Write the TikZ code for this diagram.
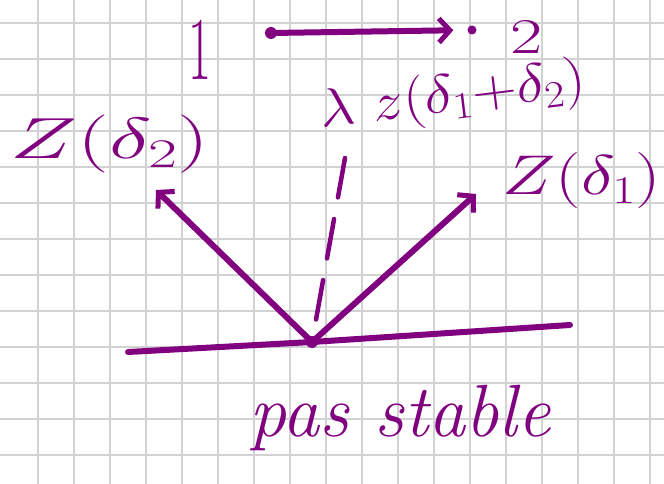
\RequirePackage{fix-cm}
\documentclass[tikz,border=0pt]{standalone}
\usetikzlibrary{arrows.meta}
\definecolor{ink}{RGB}{128,0,128}
\definecolor{gridc}{RGB}{210,210,210}
\begin{document}
\begin{tikzpicture}[x=1pt,y=-1pt,
  pen/.style={draw=ink,line width=6pt,line cap=round,line join=round},
  arr/.style={pen,-{Straight Barb[length=11pt,width=24pt,line width=5pt]}},
  dot/.style={circle,fill=ink,inner sep=0pt,minimum size=12pt},
  lbl/.style={text=ink,inner sep=0pt}]
\useasboundingbox (0,0) rectangle (664,484);
\fill[white] (0,0) rectangle (664,484);
\foreach \x in {38,74,...,650} \draw[gridc,line width=2pt] (\x,0) -- (\x,484);
\foreach \y in {23,59,...,455} \draw[gridc,line width=2pt] (0,\y) -- (664,\y);
% points 1 and 2
\node[dot] (p1) at (271,33) {};
\node[dot,minimum size=9pt] (p2) at (472,30) {};
\draw[arr,shorten >=14pt] (p1) -- (p2);
\node[lbl] (n1) at (200,50) {\fontsize{50}{50}\selectfont\scalebox{1}[1.8]{1}};
\node[lbl] (n2) at (527,37) {\fontsize{50}{50}\selectfont\scalebox{1.4}[1]{2}};
% origin and axis
\node[dot] (o) at (312,342) {};
\coordinate (axl) at (128,352);
\coordinate (axr) at (570,325);
\draw[pen] (axl) -- (o.center) -- (axr);
% arrows
\coordinate (t2) at (156,190);
\coordinate (t1) at (476,194);
\draw[arr] (o.center) -- (t2);
\draw[arr] (o.center) -- (t1);
% labels
\node[lbl] (z2) at (110,144) {\fontsize{58}{58}\selectfont\scalebox{1.55}[1]{$Z(\delta_2)$}};
\node[lbl] (z1) at (582,181) {\fontsize{56}{56}\selectfont\scalebox{1.28}[1]{$Z(\delta_1)$}};
\node[lbl,rotate=7,anchor=center] (z12) at (453,98) {\fontsize{54}{54}\selectfont\scalebox{1.15}[1]{$\lambda\;z(\delta_1{+}\delta_2)$}};
% dashed line
\coordinate (dtop) at (345,158);
\draw[ink,line width=4.5pt,line cap=round,dash pattern=on 40pt off 22pt] (dtop) -- (o.center);
\node[lbl] (ps) at (400,418) {\fontsize{74}{74}\selectfont\itshape pas stable};
\end{tikzpicture}
\end{document}
